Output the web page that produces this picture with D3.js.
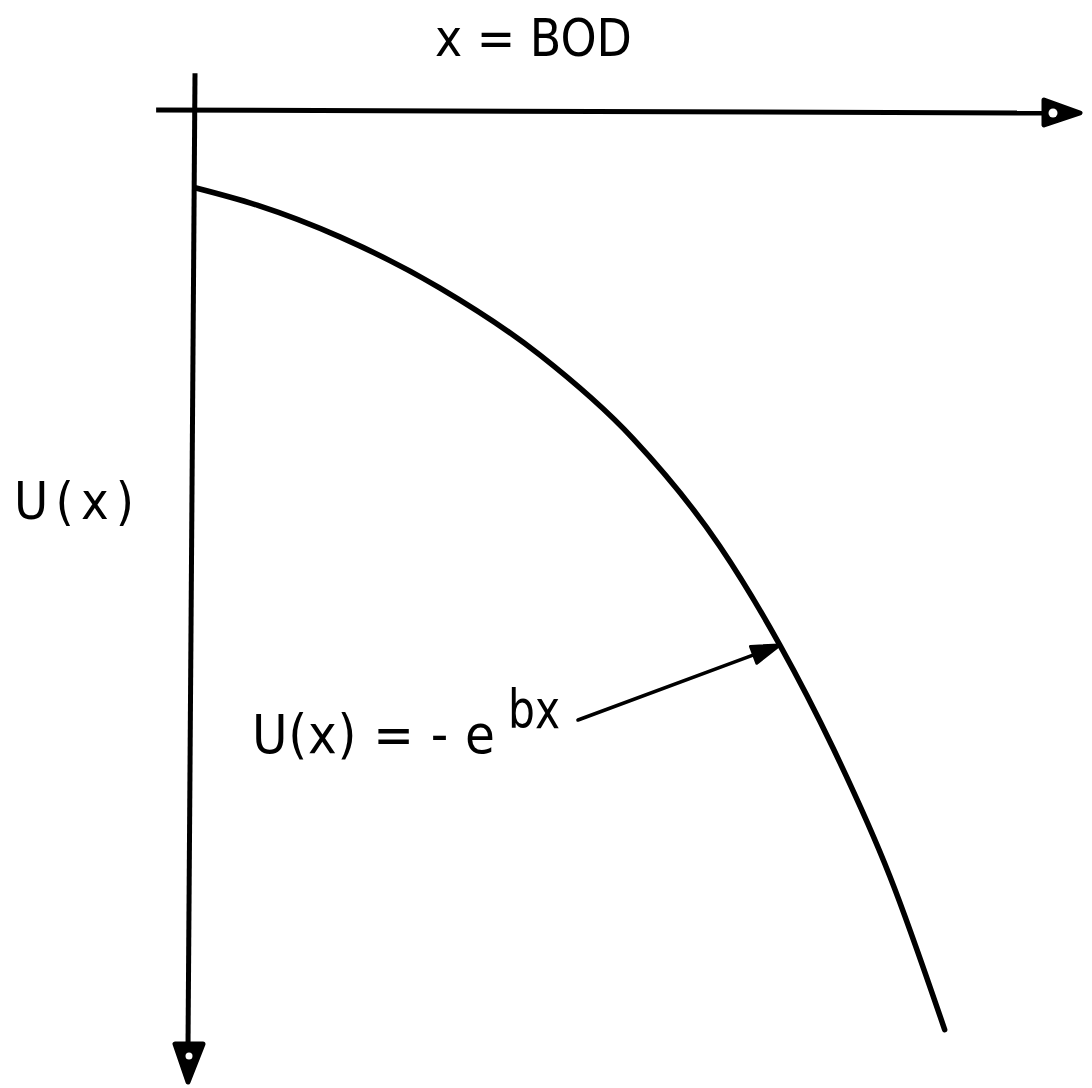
<!DOCTYPE html>
<html>
<head>
<meta charset="utf-8">
<script src="https://cdn.jsdelivr.net/npm/d3@7"></script>
<style>
  html, body { margin: 0; padding: 0; background: #fff; }
  svg { display: block; }
  text { font-family: "DejaVu Sans Condensed", "DejaVu Sans", "Liberation Sans", sans-serif; fill: #000; }
</style>
</head>
<body>
<svg id="chart" width="1092" height="1088"></svg>
<script>
// ---- data ----
const bodValues = [0, 0.69, 1.63, 2.75, 3.88, 4.93, 5.91, 6.59, 7.19, 7.83, 8.45];
const utilityValues = [-1.00, -1.22, -1.63, -2.28, -3.14, -4.21, -5.59, -6.86, -8.18, -9.82, -11.79];
const xAxisLabel = "x = BOD";
const yAxisLabel = "U(x)";
const formulaMain = "U(x) = - e";
const formulaExponent = "bx";
const annotatedIndex = 7;           // curve point the arrow points to
const xDomain = [0, 10];
const yDomain = [0, -12.5];

// ---- layout ----
const svg = d3.select("#chart");
const x = d3.scaleLinear().domain(xDomain).range([196, 1082]);
const y = d3.scaleLinear().domain(yDomain).range([110, 1085]);

const points = bodValues.map((b, i) => [b, utilityValues[i]]);

// horizontal axis (x = BOD)
const hLeft = x(-0.45), hRight = x(xDomain[1]);
svg.append("line")
  .attr("x1", hLeft).attr("y1", y(0))
  .attr("x2", hRight - 36).attr("y2", y(0) + 3)
  .attr("stroke", "#000").attr("stroke-width", 5);
svg.append("path")
  .attr("d", `M${hRight - 38},${y(0) - 10} L${hRight - 2},${y(0) + 3} L${hRight - 38},${y(0) + 15} Z`)
  .attr("fill", "#000").attr("stroke", "#000").attr("stroke-width", 5).attr("stroke-linejoin", "round");
svg.append("circle").attr("cx", hRight - 29).attr("cy", y(0) + 3).attr("r", 4.5).attr("fill", "#fff");

// vertical axis (U(x)), drawn downward
const vTop = y(0.47), vBottom = y(yDomain[1]);
svg.append("line")
  .attr("x1", x(0) - 1).attr("y1", vTop)
  .attr("x2", x(0) - 8).attr("y2", vBottom - 38)
  .attr("stroke", "#000").attr("stroke-width", 5);
svg.append("path")
  .attr("d", `M${x(0) - 21},${vBottom - 41} L${x(0) + 7},${vBottom - 41} L${x(0) - 8},${vBottom - 3} Z`)
  .attr("fill", "#000").attr("stroke", "#000").attr("stroke-width", 5).attr("stroke-linejoin", "round");
svg.append("circle").attr("cx", x(0) - 7).attr("cy", vBottom - 29).attr("r", 3.5).attr("fill", "#fff");

// curve U(x) = -e^{bx}
const line = d3.line().x(d => x(d[0])).y(d => y(d[1])).curve(d3.curveMonotoneX);
svg.append("path")
  .datum(points)
  .attr("d", line)
  .attr("fill", "none")
  .attr("stroke", "#000")
  .attr("stroke-width", 5.5)
  .attr("stroke-linecap", "round");

// axis labels
svg.append("text")
  .attr("x", 435).attr("y", 56)
  .attr("font-size", 52)
  .attr("textLength", 197).attr("lengthAdjust", "spacingAndGlyphs")
  .text(xAxisLabel);

svg.append("text")
  .attr("x", 14).attr("y", 519)
  .attr("font-size", 52)
  .attr("textLength", 120).attr("lengthAdjust", "spacing")
  .text(yAxisLabel);

// formula annotation
svg.append("text")
  .attr("x", 252).attr("y", 753)
  .attr("font-size", 54)
  .attr("textLength", 243).attr("lengthAdjust", "spacing")
  .text(formulaMain);
svg.append("text")
  .attr("x", 508).attr("y", 728)
  .attr("font-size", 54)
  .attr("textLength", 52).attr("lengthAdjust", "spacingAndGlyphs")
  .text(formulaExponent);

// arrow from formula to curve
const tip = [x(bodValues[annotatedIndex]), y(utilityValues[annotatedIndex])];
const start = [578, 720];
const ang = Math.atan2(tip[1] - start[1], tip[0] - start[0]);
const headLen = 28, headHalf = 9;
const base = [tip[0] - headLen * Math.cos(ang), tip[1] - headLen * Math.sin(ang)];
svg.append("line")
  .attr("x1", start[0]).attr("y1", start[1])
  .attr("x2", base[0]).attr("y2", base[1])
  .attr("stroke", "#000").attr("stroke-width", 3.6).attr("stroke-linecap", "round");
const nx = -Math.sin(ang), ny = Math.cos(ang);
svg.append("path")
  .attr("d", `M${tip[0]},${tip[1]} L${base[0] + nx * headHalf},${base[1] + ny * headHalf} L${base[0] - nx * headHalf},${base[1] - ny * headHalf} Z`)
  .attr("fill", "#000").attr("stroke", "#000").attr("stroke-width", 3).attr("stroke-linejoin", "round");
</script>
</body>
</html>
